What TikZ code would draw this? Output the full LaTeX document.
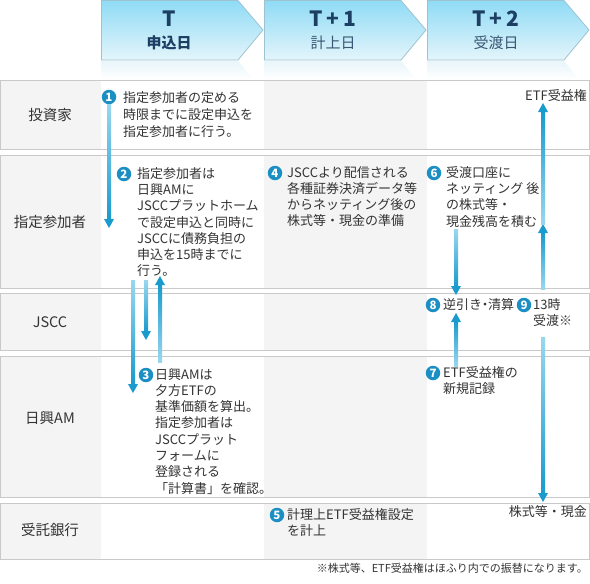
\documentclass[tikz,border=0pt]{standalone}
\usepackage{fontspec}
\setmainfont{Noto Sans CJK JP}
\usetikzlibrary{calc}
\definecolor{txt}{HTML}{333333}
\definecolor{rowgray}{HTML}{F4F4F4}
\definecolor{rowline}{HTML}{C9C9C9}
\definecolor{numblue}{HTML}{1B8EC4}
\definecolor{alight}{HTML}{9AD6EE}
\definecolor{adark}{HTML}{1A9BCD}
\definecolor{hdtop}{HTML}{8FDBF5}
\definecolor{hdbot}{HTML}{E4F5FB}
\definecolor{hdline}{HTML}{9EC3D0}
\definecolor{hdtext}{HTML}{1D3F63}
\definecolor{hdtextl}{HTML}{3A5672}
\definecolor{refl}{HTML}{E8F5FA}

\newcommand{\darrow}[2]{%
  \shade[top color=alight, bottom color=adark] let \p1=(#1), \p2=(#2) in (\x1-2pt,\y1) rectangle (\x1+2pt,\y2+8.5pt);
  \fill[adark] let \p1=(#1), \p2=(#2) in (\x1-5pt,\y2+9pt) -- (\x1+5pt,\y2+9pt) -- (\x1,\y2) -- cycle;}
\newcommand{\uarrow}[2]{%
  \shade[bottom color=alight, top color=adark] let \p1=(#1), \p2=(#2) in (\x1-2pt,\y1) rectangle (\x1+2pt,\y2-8.5pt);
  \fill[adark] let \p1=(#1), \p2=(#2) in (\x1-5pt,\y2-9pt) -- (\x1+5pt,\y2-9pt) -- (\x1,\y2) -- cycle;}
\newcommand{\rowbox}[2]{%
  \fill[rowgray] (0,#1) rectangle (101,#2);
  \fill[white] (101,#1) rectangle (264,#2);
  \fill[rowgray] (264,#1) rectangle (427,#2);
  \fill[white] (427,#1) rectangle (589,#2);
  \draw[rowline, line width=1pt] (0.5,#1) rectangle (589.5,#2);}
\newcommand{\hdrshape}[1]{%
  \shade[top color=refl, bottom color=white] (#1,61) -- (#1+137,61) -- (#1+152,79) -- (#1,79) -- cycle;
  \shade[top color=hdtop, bottom color=hdbot, draw=hdline, line width=0.8pt]
    (#1+0.5,0.5) -- (#1+137,0.5) -- (#1+162,30) -- (#1+137,60) -- (#1+0.5,60) -- cycle;}
\newcommand{\nd}{\kern-3.5pt・\kern-3.5pt}

\tikzset{
  body/.style={font=\fontsize{13}{16.3}\selectfont, text=txt, align=left, inner sep=0pt, anchor=north west},
  bodyr/.style={font=\fontsize{13}{16.3}\selectfont, text=txt, inner sep=0pt, anchor=east},
  num/.style={circle, fill=numblue, text=white, font=\bfseries\fontsize{11.5}{11.5}\selectfont, inner sep=0pt, minimum size=14.5pt},
  lab/.style={font=\fontsize{14.5}{16}\selectfont, text=txt, inner sep=0pt},
  hdT/.style={font=\bfseries\fontsize{21}{22}\selectfont, text=hdtext, inner sep=0pt},
  hdD/.style={font=\fontsize{15}{16}\selectfont, text=hdtextl, inner sep=0pt},
}

\begin{document}
\begin{tikzpicture}[x=1pt, y=-1pt]
\useasboundingbox (0,0) rectangle (590,584);
\fill[white] (0,0) rectangle (590,584);

% header
\hdrshape{101}
\hdrshape{264}
\hdrshape{427}
\node[hdT] (hT) at (169,19) {T};
\node[hdD, font=\bfseries\fontsize{15}{16}\selectfont, text=hdtext] (hTd) at (169,43) {申込日};
\node[hdT] (hT1) at (333,19) {T\,+\,1};
\node[hdD] (hT1d) at (333,43) {計上日};
\node[hdT] (hT2) at (496,19) {T\,+\,2};
\node[hdD] (hT2d) at (496,43) {受渡日};

% rows
\rowbox{80.5}{149}
\rowbox{155}{288}
\rowbox{293}{350}
\rowbox{356}{497}
\rowbox{503}{559}

\node[lab] (l1) at (50,115) {投資家};
\node[lab] (l2) at (50,222) {指定参加者};
\node[lab] (l3) at (50,322) {JSCC};
\node[lab] (l4) at (50,418) {日興AM};
\node[lab] (l5) at (50,530) {受託銀行};

% numbered items
\node[num] (n1) at (109,97) {1};
\node[body, font=\fontsize{13}{17.4}\selectfont] (t1) at (123,91) {指定参加者の定める\\時限までに設定申込を\\指定参加者に行う。};

\node[num] (n2) at (124,174) {2};
\node[body] (t2) at (137,167) {指定参加者は\\日興AMに\\JSCCプラットホーム\\で設定申込と同時に\\JSCCに債務負担の\\申込を15時までに\\行う。};

\node[num] (n4) at (275,173) {4};
\node[body] (t4) at (287,166) {JSCCより配信される\\各種証券決済データ等\\からネッティング後の\\株式等・現金の準備};

\node[num] (n6) at (434,173) {6};
\node[body] (t6) at (446,166) {受渡口座に\\ネッティング 後\\の株式等・\\現金残高を積む};

\node[num] (n3) at (146,375) {3};
\node[body] (t3) at (155,368) {日興AMは\\夕方ETFの\\基準価額を算出。\\指定参加者は\\JSCCプラット\\フォームに\\登録される\\「計算書」を確認。};

\node[num] (n8) at (433,305) {8};
\node[body] (t8) at (443,298) {逆引き\nd 清算};

\node[num] (n9) at (524,305) {9};
\node[body] (t9) at (533,298) {13時\\受渡※};

\node[num] (n7) at (433,373) {7};
\node[body] (t7) at (443,366) {ETF受益権の\\新規記録};

\node[num] (n5) at (277,515) {5};
\node[body] (t5) at (287,508) {計理上ETF受益権設定\\を計上};

\node[bodyr] (etf) at (587,96) {ETF受益権};
\node[bodyr] (cash) at (587,512) {株式等・現金};

\node[font=\fontsize{11}{12}\selectfont, text=txt, inner sep=0pt, anchor=east] (fn) at (588,568) {※株式等、ETF受益権はほふり内での振替になります。};

% arrows
\coordinate (a1e) at (109,228);
\coordinate (a2s) at (133,280); \coordinate (a2e) at (133,393);
\coordinate (a2bs) at (146,280); \coordinate (a2be) at (146,340);
\coordinate (a3s) at (160,362); \coordinate (a3e) at (160,276);
\coordinate (a6s) at (456,229); \coordinate (a6e) at (456,295);
\coordinate (a7s) at (456,366); \coordinate (a7e) at (456,313);
\coordinate (a9s) at (543,289); \coordinate (a9m) at (543,224);
\coordinate (a9t) at (543,103);
\coordinate (a9ds) at (543,337); \coordinate (a9de) at (543,502);

\darrow{n1.south}{a1e}
\darrow{a2s}{a2e}
\darrow{a2bs}{a2be}
\uarrow{a3s}{a3e}
\darrow{a6s}{a6e}
\uarrow{a7s}{a7e}
\uarrow{a9s}{a9m}
\uarrow{a9m}{a9t}
\darrow{a9ds}{a9de}
\end{tikzpicture}
\end{document}
